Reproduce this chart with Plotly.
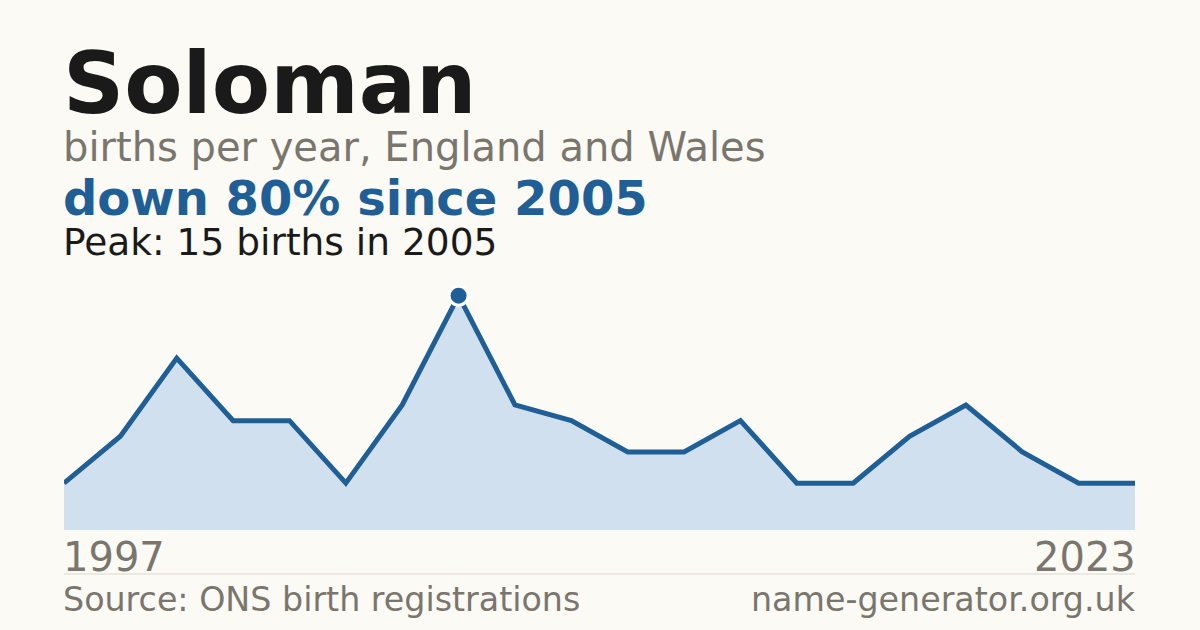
import plotly.graph_objects as go

years = ["1997", "1998", "1999", "2000", "2001", "2003", "2004", "2005", "2006", "2007",
         "2008", "2009", "2010", "2012", "2014", "2016", "2017", "2018", "2021", "2023"]
births = [3, 6, 11, 7, 7, 3, 8, 15, 8, 7, 5, 5, 7, 3, 3, 6, 8, 5, 3, 3]

name = "Soloman"
subtitle = "births per year, England and Wales"
headline = "down 80% since 2005"
peak_text = "Peak: 15 births in 2005"
source = "Source: ONS birth registrations"
site = "name-generator.org.uk"

BG = "#fbfaf5"
BLUE = "#1f5f96"
FILL = "#d0e0ef"
GRAY = "#7a766e"
DARK = "#1a1a1a"
FONT = "DejaVu Sans"

peak_i = births.index(max(births))

fig = go.Figure()
fig.add_trace(go.Scatter(
    x=years, y=births, mode="lines", fill="tozeroy", fillcolor=FILL,
    line=dict(color=BLUE, width=5), hoverinfo="skip", showlegend=False,
))
fig.add_trace(go.Scatter(
    x=[years[peak_i]], y=[births[peak_i]], mode="markers",
    marker=dict(size=19, color=BLUE, line=dict(color="white", width=3)),
    cliponaxis=False, showlegend=False, hoverinfo="skip",
))

T, B = 280, 100
H = 630 - T - B


def py(pix):
    return (630 - B - pix) / H


def ann(text, x, ypix, size, color, bold=False, xanchor="left"):
    fig.add_annotation(
        text=f"<b>{text}</b>" if bold else text,
        x=x, y=py(ypix + 0.236 * size), xref="paper", yref="paper",
        xanchor=xanchor, yanchor="bottom", showarrow=False,
        xshift=-3 if xanchor == "left" else 3, yshift=-3,
        font=dict(family=FONT, size=size, color=color),
    )


ann(name, 0, 112, 85, DARK, bold=True)
ann(subtitle, 0, 160, 40, GRAY)
ann(headline, 0, 214, 48, BLUE, bold=True)
ann(peak_text, 0, 254, 37.5, DARK)
ann(years[0], 0, 570, 40, GRAY)
ann(years[-1], 1, 570, 40, GRAY, xanchor="right")
ann(source, 0, 610, 33.3, GRAY)
ann(site, 1, 610, 33.3, GRAY, xanchor="right")

fig.add_shape(type="line", xref="paper", yref="paper", x0=0, x1=1,
              y0=py(574), y1=py(574), line=dict(color="#dcd9d0", width=1))

fig.update_layout(
    width=1200, height=630, paper_bgcolor=BG, plot_bgcolor=BG,
    margin=dict(l=64, r=65, t=T, b=B),
    xaxis=dict(type="category", range=[0, len(years) - 1], visible=False, fixedrange=True),
    yaxis=dict(range=[0, 16], visible=False, fixedrange=True),
    font=dict(family=FONT),
)

fig.write_html("out.html", config={"displayModeBar": False},
               post_script="document.body.style.margin='0px';document.body.style.background='" + BG + "';")
